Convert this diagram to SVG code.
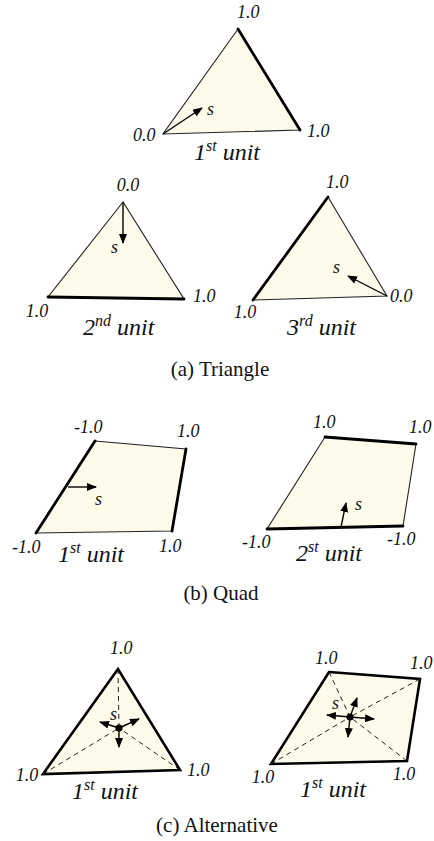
<svg xmlns="http://www.w3.org/2000/svg" width="434" height="841" viewBox="0 0 434 841">
<style>
text{font-family:"Liberation Serif","Times New Roman","DejaVu Serif",serif;fill:#111}
.v{font-style:italic;font-size:18px}
.u{font-style:italic;font-size:24px}
.cap{font-size:21px}
.sh{fill:#FEFBEB;stroke:#222;stroke-width:1.1;stroke-linejoin:miter}
.hv{fill:none;stroke:#000;stroke-width:2.8;stroke-linecap:round}
.alt{fill:#FEFBEB;stroke:#000;stroke-width:2.6;stroke-linejoin:miter}
.dash{fill:none;stroke:#222;stroke-width:1;stroke-dasharray:5 4}
.ar{fill:none;stroke:#000;stroke-width:1.4;marker-end:url(#ah)}
</style>
<defs>
<marker id="ah" viewBox="0 0 10 8" refX="9" refY="4" markerWidth="10" markerHeight="8" markerUnits="userSpaceOnUse" orient="auto">
<path d="M0,0 L10,4 L0,8 Z" fill="#000"/>
</marker>
</defs>

<g id="tri1">
<polygon class="sh" points="238,29 163,134 300,130"/>
<line class="hv" x1="238" y1="29" x2="300" y2="130"/>
<text class="v" x="237" y="18">1.0</text>
<text class="v" x="133" y="141">0.0</text>
<text class="v" x="307" y="137">1.0</text>
<text class="v" x="207" y="115">s</text>
<text class="u" x="194" y="160">1<tspan font-size="16" dy="-9">st</tspan><tspan dy="9"> unit</tspan></text>
</g>

<g id="tri2">
<polygon class="sh" points="123,202 48,297 184,299"/>
<line class="hv" x1="48" y1="297" x2="184" y2="299"/>
<text class="v" x="128" y="191" text-anchor="middle">0.0</text>
<text class="v" x="37" y="317" text-anchor="middle">1.0</text>
<text class="v" x="193" y="302">1.0</text>
<text class="v" x="111" y="253">s</text>
<text class="u" x="83" y="335">2<tspan font-size="16" dy="-9">nd</tspan><tspan dy="9"> unit</tspan></text>
</g>

<g id="tri3">
<polygon class="sh" points="328,197 253,300 387,296"/>
<line class="hv" x1="328" y1="197" x2="253" y2="300"/>
<text class="v" x="326" y="188">1.0</text>
<text class="v" x="245" y="318" text-anchor="middle">1.0</text>
<text class="v" x="390" y="302">0.0</text>
<text class="v" x="333" y="273">s</text>
<text class="u" x="287" y="335">3<tspan font-size="16" dy="-9">rd</tspan><tspan dy="9"> unit</tspan></text>
</g>

<text id="capA" class="cap" x="220" y="376" text-anchor="middle">(a) Triangle</text>

<g id="quad1">
<polygon class="sh" points="95,441 186,449 172,531 36,533"/>
<line class="hv" x1="36" y1="533" x2="95" y2="441"/>
<line class="hv" x1="186" y1="449" x2="172" y2="531"/>
<text class="v" x="74" y="433">-1.0</text>
<text class="v" x="177" y="437">1.0</text>
<text class="v" x="12" y="553">-1.0</text>
<text class="v" x="159" y="552">1.0</text>
<text class="v" x="95" y="505">s</text>
<text class="u" x="58" y="562">1<tspan font-size="16" dy="-9">st</tspan><tspan dy="9"> unit</tspan></text>
</g>

<g id="quad2">
<polygon class="sh" points="325,437 416,444 403,526 267,529"/>
<line class="hv" x1="325" y1="437" x2="416" y2="444"/>
<line class="hv" x1="267" y1="529" x2="403" y2="526"/>
<text class="v" x="313" y="428">1.0</text>
<text class="v" x="409" y="433">1.0</text>
<text class="v" x="242" y="548">-1.0</text>
<text class="v" x="387" y="545">-1.0</text>
<text class="v" x="355" y="510">s</text>
<text class="u" x="296" y="561">2<tspan font-size="16" dy="-9">st</tspan><tspan dy="9"> unit</tspan></text>
</g>

<text id="capB" class="cap" x="221" y="600" text-anchor="middle">(b) Quad</text>

<g id="alttri">
<polygon class="alt" points="118,669 43,774 180,770"/>
<path class="dash" d="M118,669 L119,728 M43,774 L119,728 M180,770 L119,728"/>
<circle cx="119" cy="728" r="3.6" fill="#000"/>
<text class="v" x="110" y="654">1.0</text>
<text class="v" x="27" y="781" text-anchor="middle">1.0</text>
<text class="v" x="187" y="776">1.0</text>
<text class="v" x="110" y="720">s</text>
<text class="u" x="72" y="799">1<tspan font-size="16" dy="-9">st</tspan><tspan dy="9"> unit</tspan></text>
</g>

<g id="altquad">
<polygon class="alt" points="329,672 420,679 407,761 271,764"/>
<path class="dash" d="M329,672 L350,717 M420,679 L350,717 M407,761 L350,717 M271,764 L350,717"/>
<circle cx="350" cy="717" r="3.6" fill="#000"/>
<text class="v" x="315" y="664">1.0</text>
<text class="v" x="410" y="669">1.0</text>
<text class="v" x="263" y="783" text-anchor="middle">1.0</text>
<text class="v" x="404" y="780" text-anchor="middle">1.0</text>
<text class="v" x="332" y="709">s</text>
<text class="u" x="300" y="797">1<tspan font-size="16" dy="-9">st</tspan><tspan dy="9"> unit</tspan></text>
</g>

<text id="capC" class="cap" x="217" y="832" text-anchor="middle">(c) Alternative</text>

<g id="connectors">
<line class="ar" x1="163" y1="134" x2="202" y2="108"/>
<line class="ar" x1="123" y1="202" x2="123" y2="243"/>
<line class="ar" x1="387" y1="296" x2="348" y2="276"/>
<line class="ar" x1="68" y1="487" x2="96" y2="487"/>
<line class="ar" x1="341" y1="527" x2="346" y2="503"/>
<line class="ar" x1="119" y1="728" x2="100" y2="722"/>
<line class="ar" x1="119" y1="728" x2="139" y2="719"/>
<line class="ar" x1="119" y1="728" x2="119" y2="747"/>
<line class="ar" x1="350" y1="717" x2="327" y2="715"/>
<line class="ar" x1="350" y1="717" x2="374" y2="719"/>
<line class="ar" x1="350" y1="717" x2="357" y2="698"/>
<line class="ar" x1="350" y1="717" x2="348" y2="737"/>
</g>
</svg>
